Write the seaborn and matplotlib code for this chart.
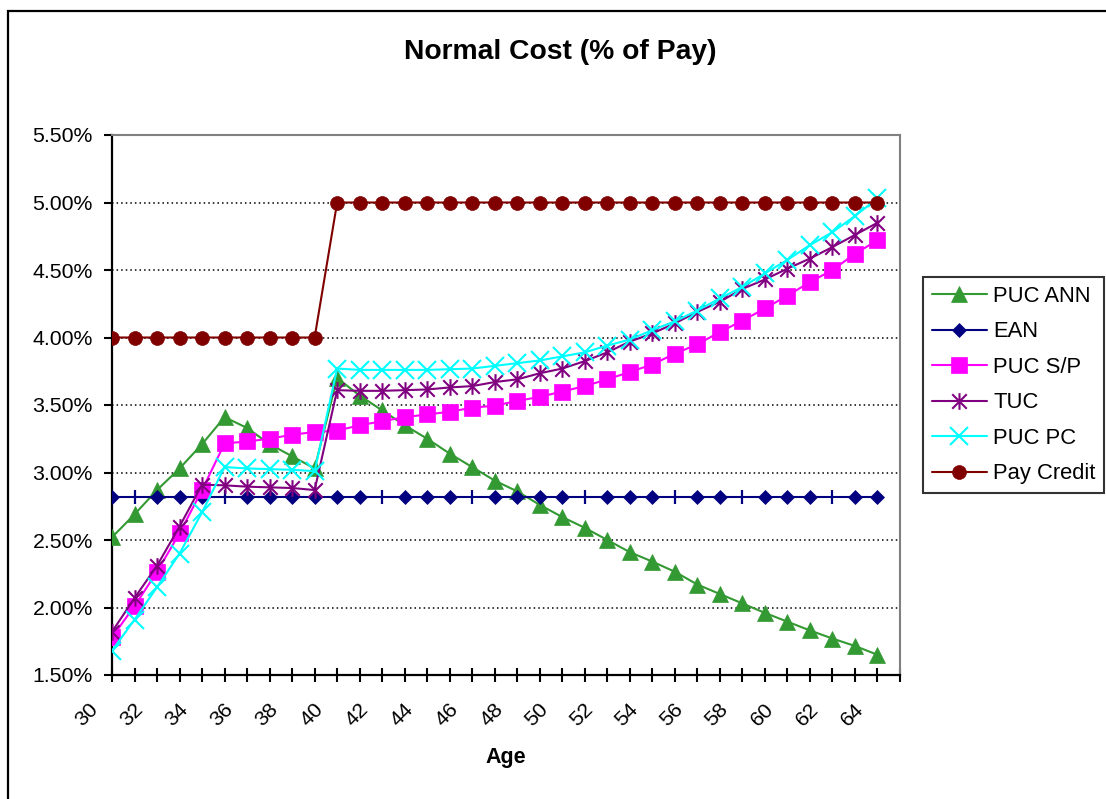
import numpy as np
import seaborn as sns
import matplotlib
matplotlib.use("Agg")
import matplotlib.pyplot as plt
from matplotlib.path import Path
from matplotlib.lines import Line2D
from matplotlib.patches import Rectangle
from matplotlib.ticker import FormatStrFormatter
from matplotlib.transforms import ScaledTranslation

# Data (values in % of pay)
ages = list(range(30, 65))

puc_ann = [2.52, 2.69, 2.87, 3.03, 3.21, 3.41, 3.33, 3.21, 3.12, 3.03,
           3.70, 3.57, 3.46, 3.35, 3.25, 3.14, 3.04, 2.94, 2.86, 2.76, 2.67,
           2.59, 2.50, 2.41, 2.34, 2.265, 2.17, 2.10, 2.03, 1.96, 1.895, 1.83,
           1.77, 1.715, 1.65]
ean = [2.82, 2.82, 2.82, 2.82, 2.82, 2.82, 2.82, 2.82, 2.82, 2.82,
       2.82, 2.82, 2.82, 2.82, 2.82, 2.82, 2.82, 2.82, 2.82, 2.82,
       2.82, 2.82, 2.82, 2.82, 2.82, 2.82, 2.82, 2.82, 2.82, 2.82,
       2.82, 2.82, 2.82, 2.82, 2.82]
puc_sp = [1.78, 2.01, 2.265, 2.55, 2.87, 3.215, 3.23, 3.25, 3.28, 3.30,
          3.31, 3.35, 3.38, 3.41, 3.43, 3.45, 3.48, 3.495, 3.53, 3.56, 3.60, 3.64,
          3.69, 3.745, 3.80, 3.88, 3.95, 4.04, 4.125, 4.215, 4.31, 4.41, 4.50,
          4.62, 4.72]
tuc = [1.82, 2.07, 2.31, 2.60, 2.91, 2.905, 2.895, 2.89, 2.885, 2.87,
       3.61, 3.605, 3.605, 3.61, 3.615, 3.63, 3.64, 3.67, 3.69, 3.735, 3.77, 3.825,
       3.89, 3.97, 4.03, 4.105, 4.19, 4.265, 4.36, 4.43, 4.51, 4.585, 4.67,
       4.76, 4.85]
puc_pc = [1.68, 1.91, 2.15, 2.40, 2.705, 3.04, 3.03, 3.025, 3.02, 3.01,
          3.77, 3.76, 3.76, 3.76, 3.76, 3.765, 3.77, 3.79, 3.81, 3.83, 3.86, 3.89,
          3.94, 3.985, 4.055, 4.12, 4.20, 4.29, 4.375, 4.475, 4.575, 4.685, 4.78,
          4.90, 5.03]
pay_credit = [4.00, 4.00, 4.00, 4.00, 4.00, 4.00, 4.00, 4.00, 4.00, 4.00,
              5.00, 5.00, 5.00, 5.00, 5.00, 5.00, 5.00, 5.00, 5.00, 5.00,
              5.00, 5.00, 5.00, 5.00, 5.00, 5.00, 5.00, 5.00, 5.00, 5.00,
              5.00, 5.00, 5.00, 5.00, 5.00]

# ages where the EAN diamonds show up only as a small vertical tick
ean_tick_ages = [31, 35, 42, 46, 51, 55, 58, 62]

x_label_ages = list(range(30, 65, 2))
y_ticks = [1.5, 2.0, 2.5, 3.0, 3.5, 4.0, 4.5, 5.0, 5.5]

sns.set_style("white")
plt.rcParams['font.family'] = ['Liberation Sans', 'DejaVu Sans']
plt.rcParams['text.color'] = 'black'
plt.rcParams['axes.labelcolor'] = 'black'

# Excel-like asterisk: an x with a vertical bar
asterisk = Path([(-1, -1), (1, 1), (-1, 1), (1, -1), (0, -1.15), (0, 1.15)],
                [Path.MOVETO, Path.LINETO, Path.MOVETO, Path.LINETO, Path.MOVETO, Path.LINETO])

series = [
    ("PUC ANN", puc_ann, "#339933", "^", 11.5),
    ("EAN", ean, "#000080", "D", 7.6),
    ("PUC S/P", puc_sp, "#FF00FF", "s", 11),
    ("TUC", tuc, "#800080", asterisk, 12),
    ("PUC PC", puc_pc, "#00FFFF", "x", 12.5),
    ("Pay Credit", pay_credit, "#800000", "o", 10),
]

fig = plt.figure(figsize=(11.06, 7.99), dpi=100)
ax = fig.add_axes([112 / 1106, 1 - 675 / 799, (900 - 112) / 1106, (675 - 135) / 799])

handles = []
for i, (name, vals, color, marker, ms) in enumerate(series):
    mew = 1.5 if (marker == "x" or marker is asterisk) else 0.5
    kw = {}
    if name == "EAN":
        kw["markevery"] = [k for k, a in enumerate(ages) if a not in ean_tick_ages]
    sns.lineplot(x=ages, y=vals, ax=ax, color=color, linewidth=1.5, marker=marker,
                 markersize=ms, markerfacecolor=color, markeredgecolor=color,
                 markeredgewidth=mew, estimator=None, sort=False, zorder=3 + i, **kw)
    if name == "EAN":
        ax.plot([a for a in ages if a in ean_tick_ages],
                [v for a, v in zip(ages, vals) if a in ean_tick_ages],
                linestyle="", marker="|", markersize=9.5, markeredgewidth=1.6,
                color=color, zorder=3 + i)
    handles.append(Line2D([], [], color=color, linewidth=1.5, marker=marker, markersize=ms,
                          markerfacecolor=color, markeredgecolor=color,
                          markeredgewidth=mew, label=name))

ax.set_xlim(30, 65)
ax.set_ylim(1.5, 5.5)
ax.set_yticks(y_ticks)
ax.yaxis.set_major_formatter(FormatStrFormatter('%.2f%%'))
ax.set_xticks(list(range(30, 66)))
ax.set_xticklabels([str(a) if a in x_label_ages else "" for a in range(30, 66)])
ax.set_xlabel("")
ax.set_ylabel("")

ax.tick_params(axis='y', direction='out', length=5.8, width=1.5, pad=8,
               labelsize=15.3, colors='black', left=True)
ax.tick_params(axis='x', direction='inout', length=9.4, width=1.5, pad=18,
               labelsize=15.3, colors='black', bottom=True)
for lab in ax.get_xticklabels():
    lab.set_rotation(45)
    lab.set_rotation_mode('anchor')
    lab.set_ha('right')
    lab.set_va('center')
    lab.set_transform(lab.get_transform() + ScaledTranslation(-0.17, 0, fig.dpi_scale_trans))

ax.yaxis.grid(True, linestyle=(0, (1, 2)), color='black', linewidth=1.1)
ax.xaxis.grid(False)
ax.set_axisbelow(True)

for side in ("left", "bottom"):
    ax.spines[side].set_color("black")
    ax.spines[side].set_linewidth(1.6)
for side in ("top", "right"):
    ax.spines[side].set_color("#808080")
    ax.spines[side].set_linewidth(1.5)
    ax.spines[side].set_visible(True)

fig.text(560 / 1106, 1 - 52 / 799, "Normal Cost (% of Pay)", ha='center', va='center',
         fontsize=20.3, fontweight='bold', color='black')
fig.text(506 / 1106, 1 - 758 / 799, "Age", ha='center', va='center',
         fontsize=15.5, fontweight='bold', color='black')

leg = fig.legend(handles=handles, loc='upper left', bbox_to_anchor=(923 / 1106, 1 - 277 / 799),
                 borderaxespad=0, frameon=True, fancybox=False, edgecolor='black',
                 fontsize=15.8, handlelength=2.5, handletextpad=0.3, labelspacing=0.66,
                 borderpad=0.4)
leg.get_frame().set_linewidth(1.5)

# outer chart-area border (right and bottom edges are outside the picture)
fig.patches.append(Rectangle((8 / 1106, -0.1), 1.2, 1 - 11 / 799 + 0.1, transform=fig.transFigure,
                             fill=False, edgecolor='black', linewidth=1.6))

fig.savefig("out.png", dpi=100)
